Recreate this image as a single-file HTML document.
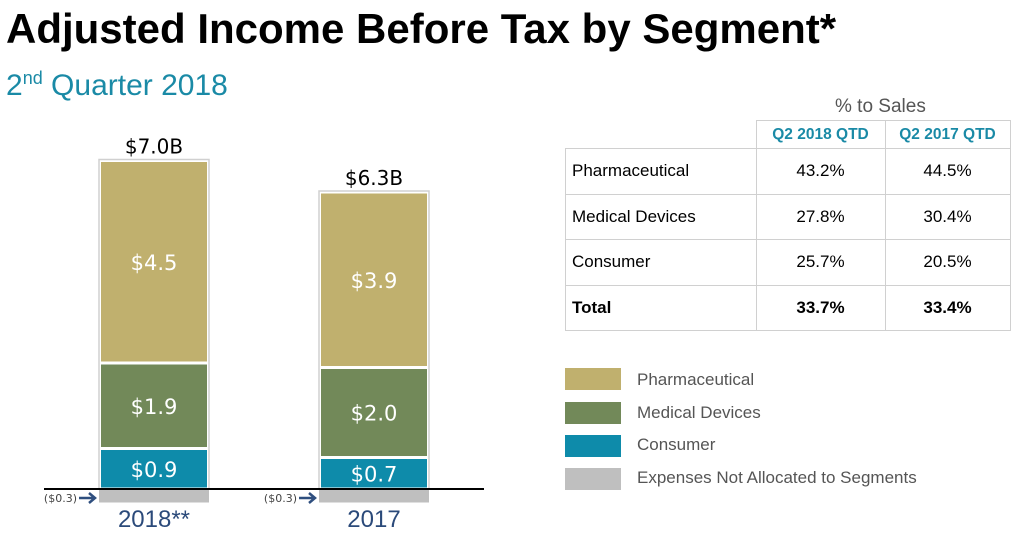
<!DOCTYPE html>
<html><head><meta charset="utf-8"><style>
body{margin:0;width:1032px;height:536px;background:#fff;font-family:"Liberation Sans",sans-serif;position:relative;overflow:hidden}
.abs{position:absolute}
table{border-collapse:collapse}
td{border:1.5px solid #d0d0d0;font-size:17px;height:44.5px;padding:0}
tr.hd td{height:27px}
</style></head><body>
<div class="abs" style="left:6px;top:5px;font-size:42px;font-weight:bold;color:#000">Adjusted Income Before Tax by Segment*</div>
<div class="abs" style="left:6px;top:68px;font-size:30px;color:#1a8aa6">2<sup style="font-size:18px">nd</sup> Quarter 2018</div>
<svg class="abs" style="left:0;top:0" width="540" height="536">
<g id="g"></g>
</svg>
<div class="abs" style="left:835px;top:96px;font-size:19px;color:#555">% to Sales</div>
<table class="abs" style="left:565px;top:120px">
<tr class="hd"><td style="border:none;width:190px;border-bottom:1.5px solid #d0d0d0"></td><td style="width:128px;text-align:center;color:#1a8aa6;font-weight:bold;font-size:15.5px">Q2 2018 QTD</td><td style="width:124px;text-align:center;color:#1a8aa6;font-weight:bold;font-size:15.5px">Q2 2017 QTD</td></tr>
<tr><td style="padding-left:6px">Pharmaceutical</td><td style="text-align:center">43.2%</td><td style="text-align:center">44.5%</td></tr>
<tr><td style="padding-left:6px">Medical Devices</td><td style="text-align:center">27.8%</td><td style="text-align:center">30.4%</td></tr>
<tr><td style="padding-left:6px">Consumer</td><td style="text-align:center">25.7%</td><td style="text-align:center">20.5%</td></tr>
<tr><td style="padding-left:6px;font-weight:bold">Total</td><td style="text-align:center;font-weight:bold">33.7%</td><td style="text-align:center;font-weight:bold">33.4%</td></tr>
</table>
<div>
<div class="abs" style="left:565px;top:368px;width:56px;height:22px;background:#c0b06e"></div>
<div class="abs" style="left:637px;top:370px;font-size:17px;color:#555">Pharmaceutical</div>
<div class="abs" style="left:565px;top:402px;width:56px;height:22px;background:#728959"></div>
<div class="abs" style="left:637px;top:403px;font-size:17px;color:#555">Medical Devices</div>
<div class="abs" style="left:565px;top:435px;width:56px;height:22px;background:#0e8baa"></div>
<div class="abs" style="left:637px;top:435px;font-size:17px;color:#555">Consumer</div>
<div class="abs" style="left:565px;top:468px;width:56px;height:22px;background:#bfbfbf"></div>
<div class="abs" style="left:637px;top:468px;font-size:17px;color:#555">Expenses Not Allocated to Segments</div>
</div>
<script>
const categories=["2018**","2017"];
const pharma=[4.5,3.9];
const medical=[1.9,2.0];
const consumer=[0.9,0.7];
const expenses=[-0.3,-0.3];
const totals=["$7.0B","$6.3B"];
const NS="http://www.w3.org/2000/svg";
const g=document.getElementById('g');
const base=489, k=45, barX=[99,319], barW=110;
const y=v=>base-v*k;
function mk(t,a,txt){const e=document.createElementNS(NS,t);for(const n in a)e.setAttribute(n,a[n]);if(txt!==undefined)e.textContent=txt;g.appendChild(e);return e;}
categories.forEach((c,i)=>{
  const x=barX[i];
  const segs=[[consumer[i],'#0e8baa','consumer'],[medical[i],'#728959','medical-devices'],[pharma[i],'#c0b06e','pharmaceutical']];
  let acc=0;
  const total=pharma[i]+medical[i]+consumer[i];
  const outer=mk('rect',{x:x,y:y(total)-1,width:barW,height:total*k+1,fill:'#fff',stroke:'#d0d0d0','stroke-width':1.5});
  
  
  segs.forEach(s=>{
    const r=mk('rect',{x:x+2,y:y(acc+s[0])+1.5,width:barW-4,height:s[0]*k-3,fill:s[1]});
    
    
    const t=mk('text',{x:x+barW/2,y:y(acc+s[0]/2)+8,'text-anchor':'middle','font-size':21,fill:'#fff','font-family':'DejaVu Sans, sans-serif'},'$'+s[0].toFixed(1));
    
    
    acc+=s[0];
  });
  const ex=mk('rect',{x:x,y:base,width:barW,height:-expenses[i]*k,fill:'#bfbfbf'});
  
  
  const el=mk('text',{x:x-22,y:base+13,'text-anchor':'end','font-size':11,fill:'#444','font-family':'DejaVu Sans, sans-serif'},'($'+(-expenses[i]).toFixed(1)+')');
  
  
  const ar=mk('path',{d:`M${x-20} ${base+9}H${x-6}M${x-10} ${base+4}L${x-4} ${base+9}L${x-10} ${base+14}`,stroke:'#2f4f7f','stroke-width':2.5,fill:'none'});
  
  
  const tt=mk('text',{x:x+barW/2,y:y(total)-7,'text-anchor':'middle','font-size':20,fill:'#000','font-family':'DejaVu Sans, sans-serif'},totals[i]);
  
  
  const cl=mk('text',{x:x+barW/2,y:527,'text-anchor':'middle','font-size':24,fill:'#2b4a7a','font-family':'Liberation Sans, sans-serif'},c);
  
  
});
const ax=mk('line',{x1:44,x2:484,y1:base,y2:base,stroke:'#000','stroke-width':2});


</script>
</body></html>
